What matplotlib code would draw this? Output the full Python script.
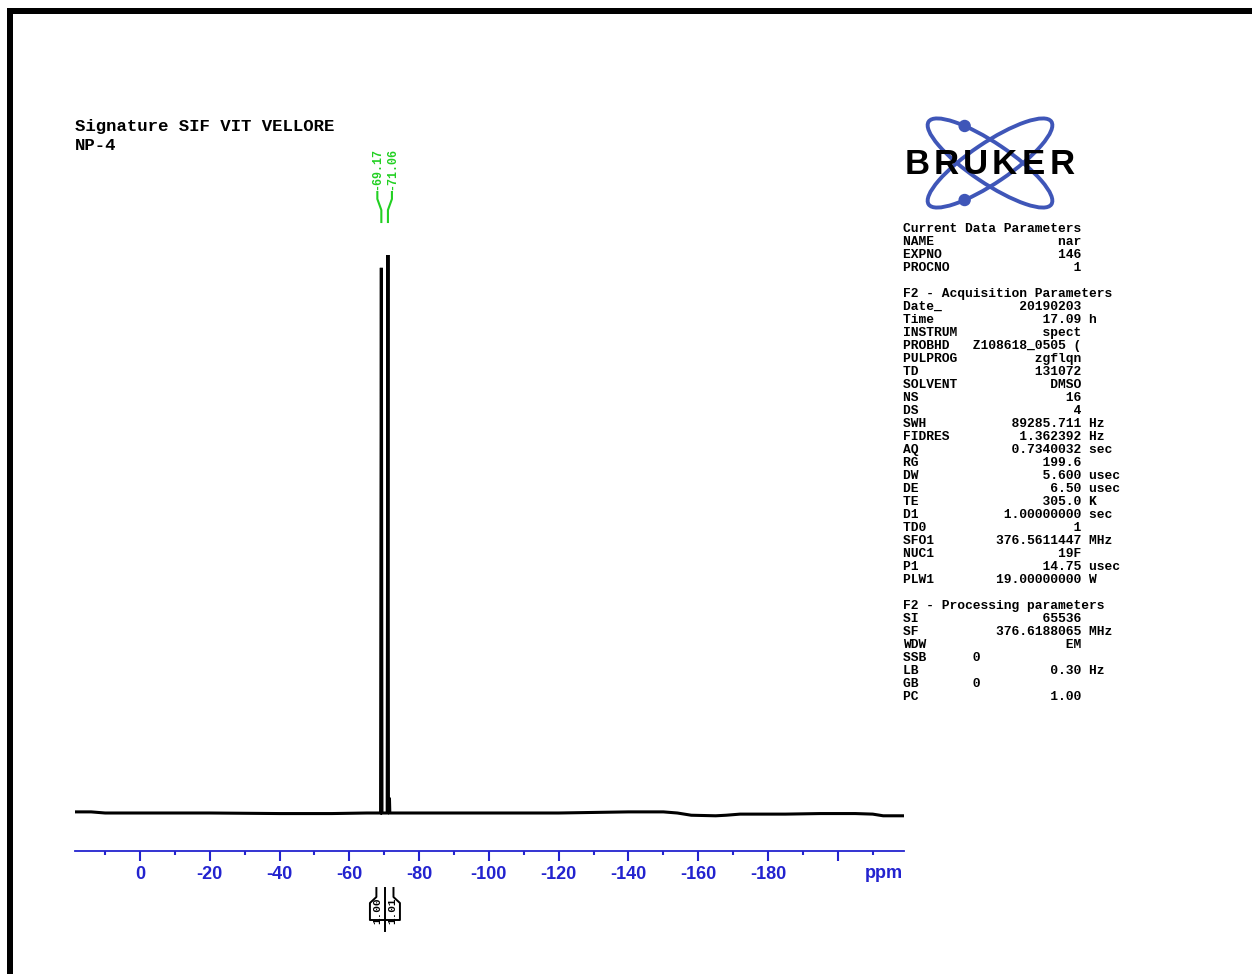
import numpy as np
import matplotlib
matplotlib.use('Agg')
import matplotlib.pyplot as plt
from matplotlib.patches import Ellipse, Circle, Rectangle
from matplotlib.transforms import blended_transform_factory

# ============================================================
# Data
# ============================================================
spec_ppm = [18.6, 14.0, 10.0, 0.0, -20.0, -40.0, -55.0, -65.0, -68.95, -69.17, -69.35,
            -70.85, -71.06, -71.2, -71.5, -71.6, -80.0, -100.0, -120.0, -130.0, -140.0,
            -150.0, -154.0, -158.0, -165.0, -168.0, -172.0, -185.0, -195.0, -205.0,
            -210.0, -213.0, -219.0]
spec_int = [0.002, 0.002, 0.000, 0.000, 0.000, -0.001, -0.001, 0.000, 0.000, 0.977, 0.000,
            0.000, 1.000, 0.025, 0.025, 0.000, 0.000, 0.000, 0.000, 0.001, 0.002,
            0.002, 0.000, -0.004, -0.005, -0.004, -0.002, -0.002, -0.001, -0.001,
            -0.002, -0.005, -0.005]

peak_ppm = [-69.17, -71.06]
peak_labels = ['-69.17', '-71.06']

integ_edges = [-65.9, -70.2, -74.5]
integ_values = ['1.00', '1.01']

major_ticks = list(range(0, -201, -20))
minor_ticks = list(range(10, -211, -20))
tick_labels = ['0', '-20', '-40', '-60', '-80', '-100', '-120', '-140', '-160', '-180', '']

title_lines = ['Signature SIF VIT VELLORE', 'NP-4']

# (name, value, unit) ; value None -> header line
params = [
    ('Current Data Parameters', None, None),
    ('NAME', 'nar', ''),
    ('EXPNO', '146', ''),
    ('PROCNO', '1', ''),
    ('', None, None),
    ('F2 - Acquisition Parameters', None, None),
    ('Date_', '20190203', ''),
    ('Time', '17.09', 'h'),
    ('INSTRUM', 'spect', ''),
    ('PROBHD', 'Z108618_0505 (', '<'),
    ('PULPROG', 'zgflqn', ''),
    ('TD', '131072', ''),
    ('SOLVENT', 'DMSO', ''),
    ('NS', '16', ''),
    ('DS', '4', ''),
    ('SWH', '89285.711', 'Hz'),
    ('FIDRES', '1.362392', 'Hz'),
    ('AQ', '0.7340032', 'sec'),
    ('RG', '199.6', ''),
    ('DW', '5.600', 'usec'),
    ('DE', '6.50', 'usec'),
    ('TE', '305.0', 'K'),
    ('D1', '1.00000000', 'sec'),
    ('TD0', '1', ''),
    ('SFO1', '376.5611447', 'MHz'),
    ('NUC1', '19F', ''),
    ('P1', '14.75', 'usec'),
    ('PLW1', '19.00000000', 'W'),
    ('', None, None),
    ('F2 - Processing parameters', None, None),
    ('SI', '65536', ''),
    ('SF', '376.6188065', 'MHz'),
    ('WDW', 'EM', ''),
    ('SSB', '0', '<'),
    ('LB', '0.30', 'Hz'),
    ('GB', '0', '<'),
    ('PC', '1.00', ''),
]

BLUE = '#2323cf'
GREEN = '#22d022'
LOGO = '#3f56b8'
MONO = 'Liberation Mono'
W, H = 1252, 974

fig = plt.figure(figsize=(W / 100, H / 100), dpi=100)

# overlay in pixel coordinates
ov = fig.add_axes([0, 0, 1, 1])
ov.set_xlim(0, W)
ov.set_ylim(H, 0)
ov.axis('off')

# spectrum axes: axis line at y=851 px, spans x 75..904 px
x0, x1, ybot, ytop = 75, 904, 851, 150
ax = fig.add_axes([x0 / W, (H - ybot) / H, (x1 - x0) / W, (ybot - ytop) / H])
ax.patch.set_alpha(0)
ax.plot(spec_ppm, spec_int, color='black', lw=2.2, solid_joinstyle='miter')
ax.set_xlim(18.63, -218.97)
ax.set_ylim(-38 / 558, (ybot - ytop - 38) / 558)
for s in ['top', 'left', 'right']:
    ax.spines[s].set_visible(False)
ax.spines['bottom'].set_color(BLUE)
ax.spines['bottom'].set_linewidth(1.3)
ax.set_yticks([])
ax.set_xticks(major_ticks)
ax.set_xticklabels(tick_labels)
ax.set_xticks(minor_ticks, minor=True)
ax.tick_params(axis='x', which='major', direction='out', length=7.5, width=1.5,
               color=BLUE, labelcolor=BLUE, pad=3.5)
ax.tick_params(axis='x', which='minor', direction='out', length=3, width=1.5, color=BLUE)
for lab in ax.get_xticklabels():
    lab.set_fontfamily('Liberation Sans')
    lab.set_fontweight('bold')
    lab.set_fontsize(13)

tr = blended_transform_factory(ax.transData, ov.transData)
ov.text(884, 873, 'ppm', color=BLUE, fontsize=13, fontweight='bold',
        family='Liberation Sans', ha='center', va='center')

# green peak labels
lab_dx = [-4, 4]
for p, lab, dx in zip(peak_ppm, peak_labels, lab_dx):
    xp = ax.transData.transform((p, 0))[0]
    xpix = ov.transData.inverted().transform((xp, 0))[0]
    ov.text(xpix + dx, 190, lab, rotation=90, color=GREEN, fontsize=8.4,
            family=MONO, fontweight='bold', ha='center', va='bottom')
    ov.plot([xpix + dx, xpix + dx, xpix, xpix], [192, 199, 210, 222],
            color=GREEN, lw=1.5)

# integrals below the axis
xl, xm, xr = integ_edges
ql = xl + (xm - xl) * 0.5 + 0.3
qr = xm + (xr - xm) * 0.5 - 0.3
kw = dict(transform=tr, color='black', lw=1.4, clip_on=False)
ax.plot([ql, ql, xl, xl, xr, xr, qr, qr], [888, 897, 903, 920, 920, 903, 897, 888], **kw)
ax.plot([xm, xm], [888, 931], **kw)
for a, b, v in zip(integ_edges[:-1], integ_edges[1:], integ_values):
    ax.text((a + b) / 2, 911, v, transform=tr, rotation=90, fontsize=8, family=MONO,
            fontweight='bold', ha='center', va='center', clip_on=False)

# title block
for i, t in enumerate(title_lines):
    ov.text(75, 127 + i * 18, t, family=MONO, fontweight='bold', fontsize=12.5,
            ha='left', va='center')

# Bruker logo
lc = (990, 163)
for ang in [34, -34]:
    ov.add_patch(Ellipse(lc, 148, 40, angle=ang, fill=False, ec=LOGO, lw=2.8))
th = np.deg2rad(34)
t = np.arctan2(-0.914, -0.624)
dot_x = lc[0] + 74 * np.cos(t) * np.cos(th) - 20 * np.sin(t) * np.sin(th)
dot_y = lc[1] + 74 * np.cos(t) * np.sin(th) + 20 * np.sin(t) * np.cos(th)
for sgn in [1, -1]:
    ov.add_patch(Circle((dot_x, lc[1] + sgn * (dot_y - lc[1])), 5.5, color=LOGO))
for i, ch in enumerate('BRUKER'):
    ov.text(917 + i * 29, 164, ch, family='Liberation Sans', fontweight='bold',
            fontsize=25, ha='center', va='center', color='black', zorder=5)

# parameter block
py0 = 229
for i, (name, val, unit) in enumerate(params):
    y = py0 + i * 13
    if val is None:
        line = name
    elif unit == '<':
        line = f'{name:<9}{val}'
    else:
        line = f'{name:<8}{val:>15}' + (f' {unit}' if unit else '')
    if line:
        ov.text(903, y, line, family=MONO, fontweight='bold', fontsize=9.4,
                ha='left', va='center')

# page border (top and left)
ov.add_patch(Rectangle((7, 8), W - 7, 6, color='black', lw=0))
ov.add_patch(Rectangle((7, 8), 6, H - 8, color='black', lw=0))

fig.savefig('out.png', dpi=100)
